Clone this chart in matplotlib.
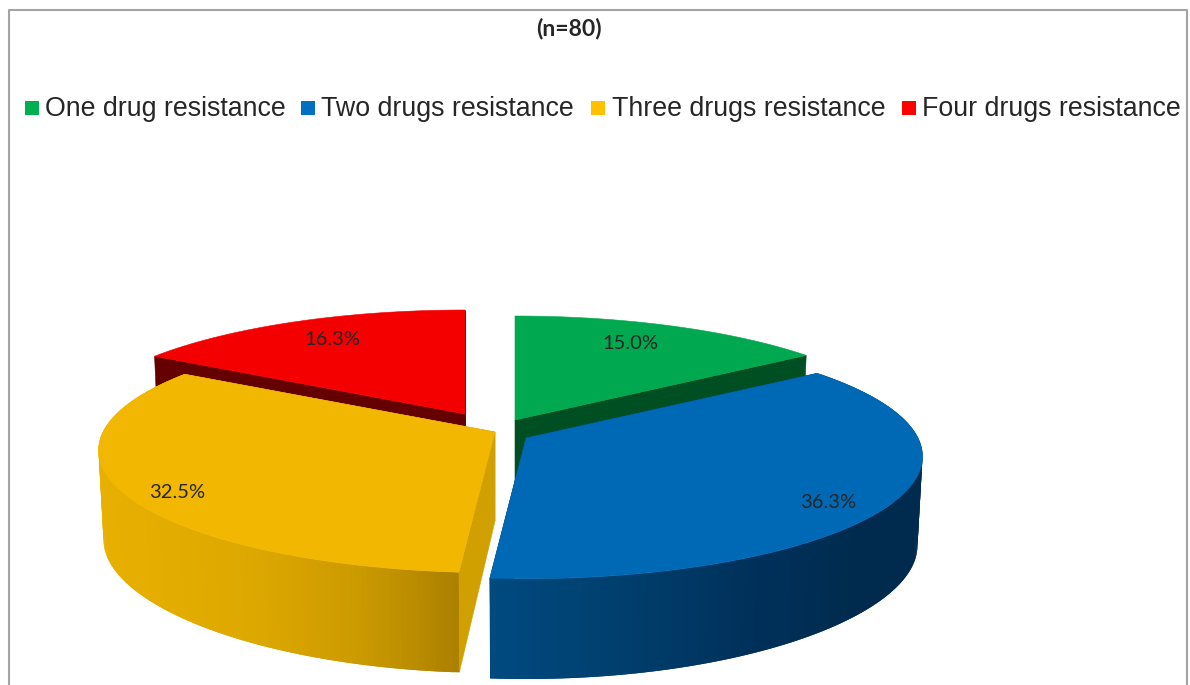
import numpy as np
import matplotlib
matplotlib.use("Agg")
import matplotlib.pyplot as plt
from matplotlib.collections import PolyCollection
from matplotlib.colors import to_rgb
from matplotlib.patches import Polygon, Rectangle

categories = ["One drug resistance", "Two drugs resistance", "Three drugs resistance", "Four drugs resistance"]
percent = [15.0, 36.3, 32.5, 16.3]
subtitle = "(n=80)"

legend_colors = ["#00B050", "#0070C0", "#FFC000", "#FF0000"]
top_colors = ["#00A94F", "#0069B5", "#F2B700", "#F50000"]
cut_colors = ["#004F22", "#002C52", "#D09F00", "#640000"]

# wedge origins after the explode, pixels
origins = [(515, 420), (526, 438), (495, 432), (465, 414)]
label_pos = [(630, 342), (828, 501), (177, 491), (332, 338)]
legend_box = [24.5, 301, 591, 902]
legend_text = [45, 321, 612, 922]

# perspective of the top and bottom faces (px bends x, py bends y)
TOP = dict(A=392, B=119.6, px=0.15, py=0.15, dz=0)
BOTTOM = dict(A=387, B=121.6, px=0.15, py=0.20, dz=89)

# side shading runs left to right across the front of the pie
side_ramps = {
    1: ([491, 620, 760, 860], ["#004A80", "#003F6E", "#00305A", "#002B4E"]),
    2: ([97, 250, 360, 459], ["#E8B000", "#DDA800", "#CB9A00", "#AC8000"]),
}


def project(theta, origin, A, B, px, py, dz):
    x = np.sin(theta)
    y = np.cos(theta)
    return origin[0] + A * x / (1 + px * y), origin[1] + dz - B * y / (1 + py * y)


def ramp_color(x, stops, colors):
    rgb = np.array([to_rgb(c) for c in colors])
    return [np.interp(x, stops, rgb[:, i]) for i in range(3)]


def radial_wall(ax, theta, origin, color, z):
    tx, ty = project(theta, origin, **TOP)
    bx, by = project(theta, origin, **BOTTOM)
    pts = [origin, (tx, ty), (bx, by), (origin[0], origin[1] + BOTTOM["dz"])]
    ax.add_patch(Polygon(pts, closed=True, fc=color, ec=color, lw=0.4, zorder=z))


plt.rcParams["font.family"] = ["Liberation Sans", "DejaVu Sans"]
fig = plt.figure(figsize=(11.9, 6.85), dpi=100)
ax = fig.add_axes([0, 0, 1, 1])
ax.set_xlim(0, 1190)
ax.set_ylim(685, 0)
ax.axis("off")

# chart frame, open at the bottom
ax.plot([9, 9, 1187, 1187], [685, 10, 10, 685], color="#A3A3A3", lw=1.5, zorder=1)

ax.text(569, 28, subtitle, family="Lato", weight="bold", fontsize=16.5, color="#262626",
        ha="center", va="center")

for name, color, bx, tx in zip(categories, legend_colors, legend_box, legend_text):
    ax.add_patch(Rectangle((bx, 100.5), 14, 14.5, fc=color, ec="none", zorder=2))
    ax.text(tx, 108.5, name, fontsize=19.3, color="#262626", ha="left", va="center")

# slice angles, clockwise from twelve o'clock
edges = np.concatenate([[0], np.cumsum(percent)]) / np.sum(percent) * 2 * np.pi

# back slices first so the front ones cover them
z = 3
for i in [3, 0, 2, 1]:
    start, stop = edges[i], edges[i + 1]
    origin = origins[i]
    radial_wall(ax, start, origin, cut_colors[i], z)
    radial_wall(ax, stop, origin, cut_colors[i], z)
    z += 1

    theta = np.linspace(start, stop, 160)
    tx, ty = project(theta, origin, **TOP)
    bx, by = project(theta, origin, **BOTTOM)
    if i in side_ramps:
        # each strip overlaps the next one, which hides the seams
        quads = []
        shades = []
        for k in range(len(theta) - 1):
            n = min(k + 2, len(theta) - 1)
            quads.append([(tx[k], ty[k]), (tx[n], ty[n]), (bx[n], by[n]), (bx[k], by[k])])
            shades.append(ramp_color((tx[k] + tx[k + 1]) / 2, *side_ramps[i]))
        ax.add_collection(PolyCollection(quads, facecolors=shades, edgecolors="none", zorder=z))
        z += 1

    outline = [origin] + list(zip(tx, ty))
    ax.add_patch(Polygon(outline, closed=True, fc=top_colors[i], ec=top_colors[i], lw=0.4, zorder=z))
    z += 1

for value, (x, y) in zip(percent, label_pos):
    ax.text(x, y + 1, f"{value:.1f}%", family="Lato", fontsize=14.5, color="#262626",
            ha="center", va="center", zorder=z)

fig.savefig("out.png", dpi=100)
